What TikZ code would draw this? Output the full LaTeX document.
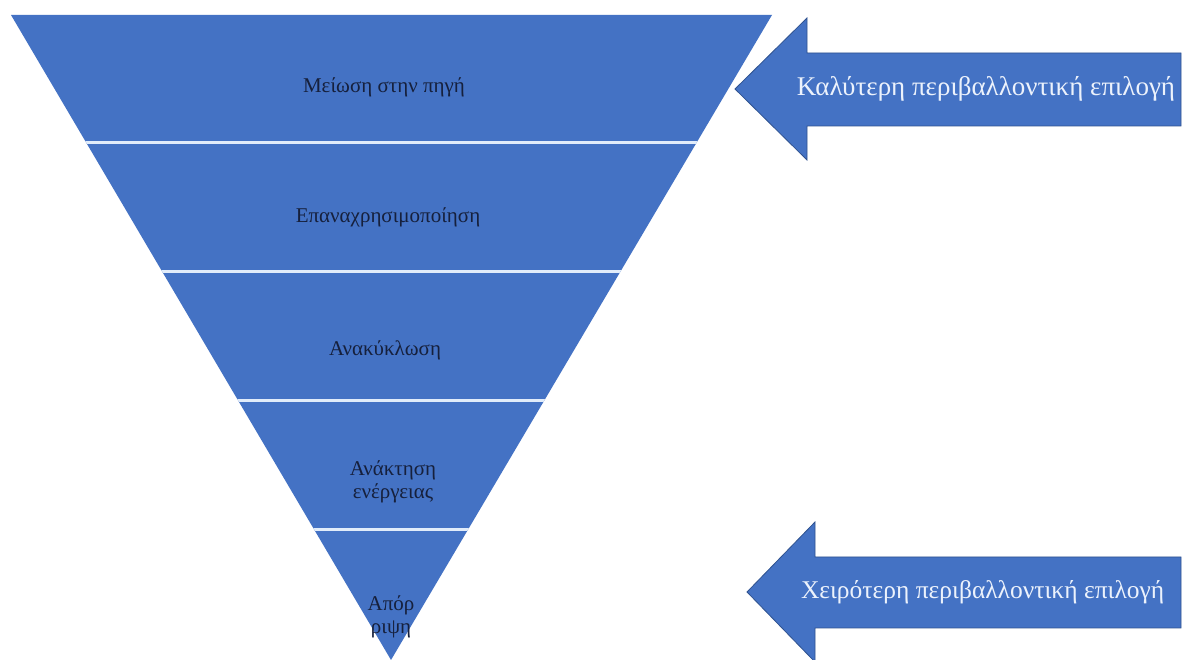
\documentclass[tikz,border=0pt]{standalone}
\usepackage{fontspec}
\setmainfont{Liberation Serif}
\begin{document}
\begin{tikzpicture}[x=1pt,y=1pt,
  bandlabel/.style={text=textColor,anchor=center,inner sep=0pt,outer sep=0pt,font=\fontsize{21}{23}\selectfont,align=center},
  arrowlabel/.style={text=arrowText,inner sep=0pt,outer sep=0pt,font=\fontsize{27}{30}\selectfont},
  separator/.style={draw=sepColor,line width=3pt},
  blockarrow/.style={fill=fillColor,draw=edgeColor,line width=0.8pt,line join=miter}]
\definecolor{fillColor}{RGB}{68,114,196}
\definecolor{edgeColor}{RGB}{47,82,143}
\definecolor{sepColor}{RGB}{225,236,250}
\definecolor{textColor}{RGB}{22,32,60}
\definecolor{arrowText}{RGB}{236,242,252}
\path[use as bounding box,fill=white] (0,0) rectangle (1184,660);

% inverted triangle with its bands
\begin{scope}
\path[clip] (11,645) -- (772,645) -- (391,0) -- cycle;
\path[fill=fillColor] (0,0) rectangle (800,660);

\path[separator] (0,517) -- (800,517);

\path[separator] (0,388) -- (800,388);

\path[separator] (0,259) -- (800,259);

\path[separator] (0,130) -- (800,130);
\end{scope}

\node[bandlabel] (reduce) at (384,573) {Μείωση στην πηγή};

\node[bandlabel] (reuse) at (388,443) {Επαναχρησιμοποίηση};

\node[bandlabel] (recycle) at (385,310) {Ανακύκλωση};

\node[bandlabel] (recovery) at (393,178) {Ανάκτηση\\ενέργειας};

\node[bandlabel] (disposal) at (391,43) {Απόρ\\ριψη};

% side arrows
\begin{scope}
\path[clip] (0,0) rectangle (1184,660);
\path[blockarrow] (735,571) -- (807,642) -- (807,607) -- (1181,607) --
	(1181,534) -- (807,534) -- (807,500) -- cycle;

\path[blockarrow] (747,68) -- (815,138) -- (815,103) -- (1181,103) --
	(1181,32) -- (815,32) -- (815,-2) -- cycle;
\end{scope}

\node[arrowlabel,anchor=center] (better) at (986,571) {Καλύτερη περιβαλλοντική επιλογή};

\node[arrowlabel,anchor=west,font=\fontsize{25.5}{28}\selectfont] (worse) at (801,68) {Χειρότερη περιβαλλοντική επιλογή};
\end{tikzpicture}
\end{document}
